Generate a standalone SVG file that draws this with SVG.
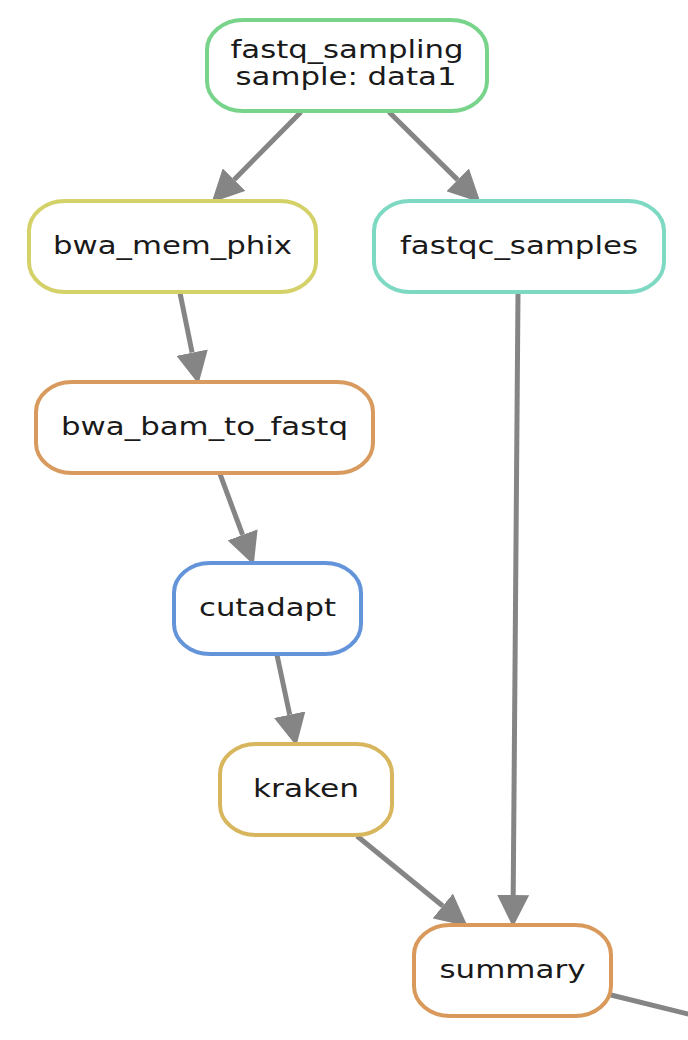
<svg xmlns="http://www.w3.org/2000/svg" width="688" height="1040" viewBox="0 0 688 1040">
<defs>
<style>
.node rect{fill:#ffffff;stroke-width:4}
.node text{font-family:"DejaVu Sans","Liberation Sans",sans-serif;font-size:24px;fill:#1a1a1a;text-anchor:middle}
.edge{stroke:#858585;stroke-width:5;fill:none}
</style>
<marker id="arr" markerUnits="userSpaceOnUse" markerWidth="32" markerHeight="32" viewBox="0 0 30 30" refX="0" refY="15" orient="auto">
<path d="M0,0 L30,15 L0,30 z" fill="#858585"/>
</marker>
</defs>
<rect width="688" height="1040" fill="#ffffff"/>
<g id="connectors">
<line class="edge" x1="301" y1="112" x2="234.1" y2="179.7" marker-end="url(#arr)"/>
<line class="edge" x1="389" y1="112" x2="457.7" y2="179.9" marker-end="url(#arr)"/>
<line class="edge" x1="180" y1="293" x2="192.1" y2="352.6" marker-end="url(#arr)"/>
<line class="edge" x1="220" y1="474" x2="242.6" y2="534.9" marker-end="url(#arr)"/>
<line class="edge" x1="277" y1="655" x2="289.7" y2="714.7" marker-end="url(#arr)"/>
<line class="edge" x1="357" y1="836" x2="442.8" y2="906" marker-end="url(#arr)"/>
<line class="edge" x1="518" y1="293" x2="513.2" y2="895" marker-end="url(#arr)"/>
<line class="edge" x1="611" y1="995" x2="700" y2="1017"/>
</g>
<g id="fastq_sampling" class="node">
<rect x="207" y="20" width="280" height="91" rx="36" ry="30" stroke="#78d38b"/>
<text x="347" y="58" textLength="233" lengthAdjust="spacingAndGlyphs">fastq_sampling</text>
<text x="346" y="85" textLength="221" lengthAdjust="spacingAndGlyphs">sample: data1</text>
</g>
<g id="bwa_mem_phix" class="node">
<rect x="29" y="201" width="287" height="91" rx="36" ry="30" stroke="#d4d168"/>
<text x="172.5" y="254" textLength="239" lengthAdjust="spacingAndGlyphs">bwa_mem_phix</text>
</g>
<g id="fastqc_samples" class="node">
<rect x="374" y="201" width="290" height="91" rx="36" ry="30" stroke="#7ed9c3"/>
<text x="519" y="254" textLength="238" lengthAdjust="spacingAndGlyphs">fastqc_samples</text>
</g>
<g id="bwa_bam_to_fastq" class="node">
<rect x="36" y="382" width="337" height="91" rx="36" ry="30" stroke="#d89a5e"/>
<text x="204.5" y="435" textLength="287" lengthAdjust="spacingAndGlyphs">bwa_bam_to_fastq</text>
</g>
<g id="cutadapt" class="node">
<rect x="174" y="563" width="187" height="91" rx="36" ry="30" stroke="#6394da"/>
<text x="267.5" y="616" textLength="137" lengthAdjust="spacingAndGlyphs">cutadapt</text>
</g>
<g id="kraken" class="node">
<rect x="220" y="744" width="172" height="91" rx="36" ry="30" stroke="#d8b65e"/>
<text x="306" y="797" textLength="106" lengthAdjust="spacingAndGlyphs">kraken</text>
</g>
<g id="summary" class="node">
<rect x="414" y="925" width="197" height="91" rx="36" ry="30" stroke="#d9995a"/>
<text x="512.5" y="978" textLength="146" lengthAdjust="spacingAndGlyphs">summary</text>
</g>
</svg>
